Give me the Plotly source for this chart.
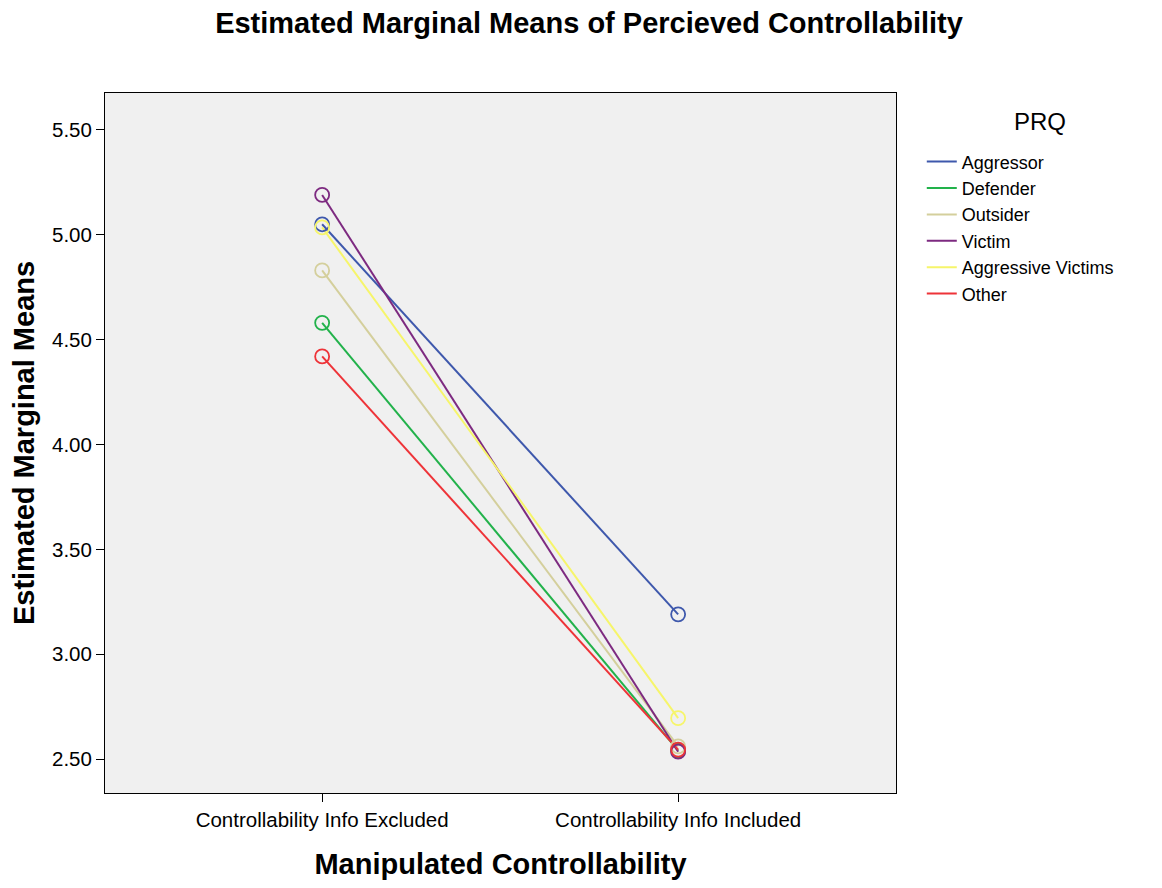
import plotly.graph_objects as go

categories = ["Controllability Info Excluded", "Controllability Info Included"]
groups = ["Aggressor", "Defender", "Outsider", "Victim", "Aggressive Victims", "Other"]
aggressor = [5.05, 3.19]
defender = [4.58, 2.54]
outsider = [4.83, 2.56]
victim = [5.19, 2.535]
aggressive_victims = [5.035, 2.695]
other = [4.42, 2.545]
y_ticks = [2.5, 3.0, 3.5, 4.0, 4.5, 5.0, 5.5]
y_tick_labels = ["2.50", "3.00", "3.50", "4.00", "4.50", "5.00", "5.50"]

series = [aggressor, defender, outsider, victim, aggressive_victims, other]
colors = ["#3e58ac", "#22b24b", "#d4cf9c", "#7d2a80", "#f6f56a", "#ee3338"]

fig = go.Figure()
for name, vals, c in zip(groups, series, colors):
    fig.add_trace(go.Scatter(x=[0, 1], y=vals, mode="lines", name=name,
                             line=dict(color=c, width=2), showlegend=True))
for name, vals, c in zip(groups, series, colors):
    fig.add_trace(go.Scatter(x=[0, 1], y=vals, mode="markers", name=name,
                             marker=dict(symbol="circle-open", size=14, color=c,
                                         line=dict(width=1.8, color=c)),
                             showlegend=False))

font = "Liberation Sans, Arial, sans-serif"
fig.update_layout(
    width=1162, height=888,
    margin=dict(l=97, r=274, t=85, b=103),
    paper_bgcolor="white", plot_bgcolor="#f0f0f0",
    font=dict(family=font, color="black", size=16),
    title=dict(text="<b>Estimated Marginal Means of Percieved Controllability</b>",
               x=0.5, xanchor="center", y=0.983, yanchor="middle",
               font=dict(size=29, family=font)),
    legend=dict(x=1.0326, xanchor="left", y=0.928, yanchor="top",
                font=dict(size=18), tracegroupgap=0, bgcolor="rgba(0,0,0,0)"),
    showlegend=True,
    annotations=[dict(text="PRQ", xref="paper", yref="paper", x=1.182, y=0.9586,
                      xanchor="center", yanchor="middle", showarrow=False,
                      font=dict(size=24, family=font))],
)
fig.update_xaxes(
    range=[-0.61, 1.612], tickvals=[0, 1], ticktext=categories,
    showgrid=False, zeroline=False, showline=True, linecolor="black", linewidth=1,
    mirror=True, ticks="outside", ticklen=8, tickcolor="black",
    tickfont=dict(size=20.5),
    title=dict(text="<b>Manipulated Controllability</b>", font=dict(size=29), standoff=24),
)
fig.update_yaxes(
    range=[2.338, 5.676], tickvals=y_ticks, ticktext=y_tick_labels,
    showgrid=False, zeroline=False, showline=True, linecolor="black", linewidth=1,
    mirror=True, ticks="outside", ticklen=8, tickcolor="black",
    tickfont=dict(size=20.5),
    title=dict(text="<b>Estimated Marginal Means</b>", font=dict(size=29), standoff=10),
)

fig.write_html("out.html")
